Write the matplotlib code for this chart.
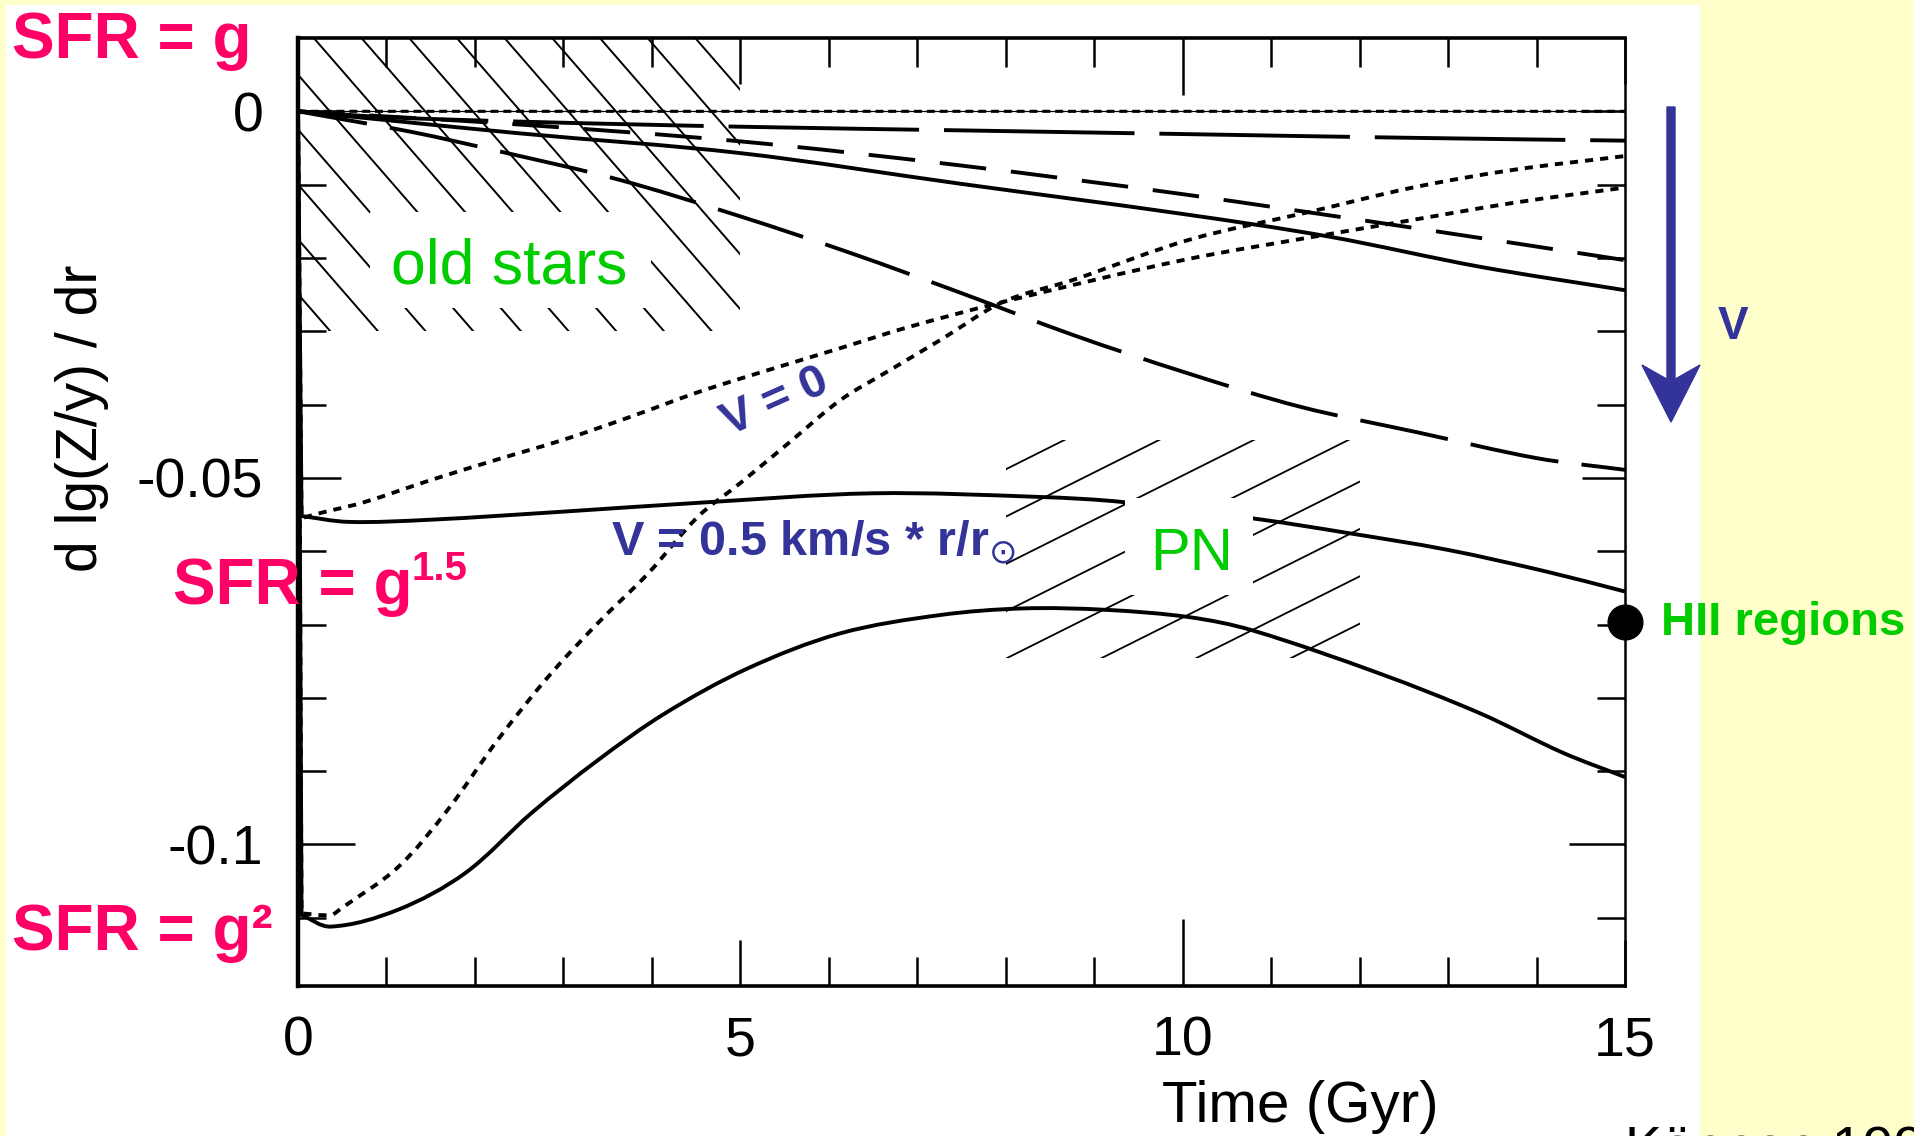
import matplotlib
matplotlib.use("Agg")
import matplotlib.pyplot as plt
import matplotlib.patches as mpatches
import matplotlib.transforms as mtransforms
from matplotlib.path import Path
import numpy as np

plt.rcParams['font.family'] = ['Liberation Sans', 'DejaVu Sans']
plt.rcParams['axes.unicode_minus'] = False
plt.rcParams['mathtext.fontset'] = 'dejavusans'

# --- data (time in Gyr, gradient in dex/kpc) ---
# SFR = g
g_v0_t = [0, 15]
g_v0 = [0, 0]
g_ld1_t = [0, 1, 2.5, 5, 7.5, 10, 12.5, 15]
g_ld1 = [0, -0.0008, -0.0014, -0.0021, -0.0026, -0.0031, -0.0036, -0.0040]
g_sol_t = [0, 1, 2.5, 5, 7.5, 10, 11.66, 13.36, 15]
g_sol = [0, -0.0012, -0.0030, -0.0057, -0.0099, -0.0140, -0.0171, -0.0212, -0.0244]
g_sd_t = [0, 2.5, 5, 7.5, 10, 12.5, 15]
g_sd = [0, -0.0018, -0.0041, -0.0074, -0.0113, -0.0157, -0.0203]
g_ld2_t = [0, 1.28, 2.29, 3.62, 4.94, 6.24, 7.5, 8.76, 10.05, 11.33, 12.66, 14.0, 15]
g_ld2 = [0, -0.0028, -0.0055, -0.0093, -0.0141, -0.0193, -0.0248, -0.0305,
         -0.0357, -0.0403, -0.0438, -0.0473, -0.0489]

# SFR = g^1.5
g15_v0_t = [0, 0.04, 0.25, 0.75, 1.5, 2.25, 3.0, 3.75, 4.5, 5.07, 6.13, 6.88,
            7.97, 10.0, 11.63, 12.46, 13.73, 15]
g15_v0 = [0, -0.0555, -0.0548, -0.0533, -0.0503, -0.0475, -0.0448, -0.0417,
          -0.0384, -0.0362, -0.0323, -0.0295, -0.0260, -0.0203, -0.0168,
          -0.0151, -0.0125, -0.0104]
g15_sol_t = [0, 0.04, 0.57, 1.5, 3.0, 4.52, 6.5, 8.39, 9.33, 10.9, 11.86,
             12.99, 14.12, 15]
g15_sol = [0, -0.0552, -0.0560, -0.0557, -0.0546, -0.0534, -0.0521, -0.0526,
           -0.0533, -0.0557, -0.0575, -0.0598, -0.0628, -0.0655]

# SFR = g^2
g2_v0_t = [0, 0.04, 0.37, 0.49, 1.13, 1.69, 2.26, 2.83, 3.39, 3.96, 4.52, 5.0,
           5.56, 6.13, 6.69, 7.26, 7.97, 8.76, 10.08, 11.44, 12.6, 13.73, 15]
g2_v0 = [0, -0.1094, -0.1096, -0.1087, -0.1031, -0.0953, -0.0857, -0.0771,
         -0.0698, -0.0630, -0.0553, -0.0507, -0.0451, -0.0394, -0.0353,
         -0.0312, -0.0260, -0.0230, -0.0175, -0.0137, -0.0104, -0.0080, -0.0061]
g2_sol_t = [0, 0.04, 0.37, 1.13, 1.89, 2.64, 3.39, 4.15, 5.08, 6.13, 7.26,
            8.2, 9.14, 10.08, 10.79, 12.23, 13.36, 14.3, 15]
g2_sol = [0, -0.1096, -0.1112, -0.1089, -0.1039, -0.0957, -0.0885, -0.0821,
          -0.0760, -0.0712, -0.0687, -0.0678, -0.0680, -0.0690, -0.0708,
          -0.0767, -0.0821, -0.0875, -0.0908]

# observed HII-region gradient
hii_t = [15]
hii_v = [-0.0697]

# age ranges of the tracers: (t0, t1, v0, v1)
old_stars_box = (0, 5, -0.030, 0.010)
pn_box = (8.0, 12.0, -0.0746, -0.0448)

x_ticks = [0, 5, 10, 15]
x_labels = ['0', '5', '10', '15']
y_ticks = [0, -0.05, -0.1]
y_labels = ['0', '-0.05', '-0.1']

W, H = 1915, 1136
fig = plt.figure(figsize=(W / 100, H / 100), dpi=100, facecolor='#ffffcc')
# pixel coordinates measured from top-left of the picture
P = mtransforms.Affine2D().scale(1, -1).translate(0, H).scale(0.01) + fig.dpi_scale_trans

fig.add_artist(mpatches.Rectangle((6, 5), 1694, 1131, transform=P,
                                  fc='white', ec='none', zorder=-1))

ax = fig.add_axes([298 / W, (H - 986) / H, 1327 / W, 948 / H])
ax.set_xlim(0, 15)
ax.set_ylim(-0.1193, 0.0100)

# pixels per unit, used to build smooth curves in screen-like proportions
SX, SY = 88.47, 7330.0
LW = 2.8


def curve(t, v, ls='-', lw=LW, drop=False):
    """Draw a smooth curve through the read-off points."""
    p = np.column_stack([np.asarray(t, float) * SX, np.asarray(v, float) * SY])
    verts = [p[0]]
    codes = [Path.MOVETO]
    s = 0
    if drop:
        verts.append(p[1])
        codes.append(Path.LINETO)
        s = 1
    q = p[s:]
    n = len(q)
    d = np.zeros_like(q)
    for i in range(n):
        a = q[max(i - 1, 0)]
        b = q[min(i + 1, n - 1)]
        vec = b - a
        d[i] = vec / np.hypot(*vec)
    for i in range(n - 1):
        L = np.hypot(*(q[i + 1] - q[i])) / 3
        verts += [q[i] + d[i] * L, q[i + 1] - d[i + 1] * L, q[i + 1]]
        codes += [Path.CURVE4] * 3
    verts = np.array(verts) / [SX, SY]
    patch = mpatches.PathPatch(Path(verts, codes), fill=False, ec='black',
                               lw=lw, ls=ls, capstyle='butt')
    ax.add_patch(patch)


dot = (0, (2.1, 1.8))
ax.axhline(0, color='black', lw=0.9, zorder=2)
curve(g_v0_t, g_v0, ls=(0, (2.6, 1.6)), lw=2.2)
curve(g_ld1_t, g_ld1, ls=(0, (49, 6.4)))
curve(g_sol_t, g_sol)
curve(g_sd_t, g_sd, ls=(0, (12, 6.4)))
curve(g_ld2_t, g_ld2, ls=(5, (23, 6)))

curve(g15_v0_t, g15_v0, ls=dot, drop=True)
curve(g15_sol_t, g15_sol, drop=True)
curve(g2_v0_t, g2_v0, ls=dot, drop=True)
curve(g2_sol_t, g2_sol, drop=True)

ax.plot(hii_t, hii_v, 'o', color='black', ms=25, clip_on=False, zorder=6)

# hatching of the tracer age ranges
t0, t1, v0, v1 = old_stars_box
clip = mpatches.Rectangle((t0, v0), t1 - t0, v1 - v0, transform=ax.transData)
slope = -0.01388
for tb in np.arange(0.904 - 6 * 0.539, t1 + 3.5, 0.539):
    ts = np.array([tb - 3.5, tb + 3.5])
    ln, = ax.plot(ts, v0 + slope * (ts - tb), color='black', lw=1.4)
    ln.set_clip_path(clip)

t0, t1, v0, v1 = pn_box
clip2 = mpatches.Rectangle((t0, v0), t1 - t0, v1 - v0, transform=ax.transData)
slope = 0.006035
for tb in np.arange(8.01 - 5 * 1.07, t1, 1.07):
    ts = np.array([tb - 1, tb + 6])
    ln, = ax.plot(ts, v0 + slope * (ts - tb), color='black', lw=1.3)
    ln.set_clip_path(clip2)

# axes styling
ax.set_xticks(x_ticks, labels=x_labels)
ax.set_yticks(y_ticks, labels=y_labels)
ax.set_xticks(np.arange(0, 16, 1), minor=True)
ax.set_yticks([-0.11, -0.09, -0.08, -0.07, -0.06, -0.04, -0.03, -0.02, -0.01], minor=True)
ax.tick_params(which='both', direction='in', top=True, right=True, width=1.8, color='black')
ax.tick_params(axis='x', which='major', length=33, labelsize=40, pad=21)
ax.tick_params(axis='y', which='major', length=31, labelsize=40, pad=25)
ax.tick_params(axis='x', which='minor', length=21)
ax.tick_params(axis='y', which='minor', length=20)
for tk in ax.xaxis.get_major_ticks()[2:3]:
    tk.tick1line.set_markersize(48)
    tk.tick2line.set_markersize(41)
for tk in ax.yaxis.get_major_ticks()[2:3]:
    tk.tick1line.set_markersize(41)
    tk.tick2line.set_markersize(40)
for lab in ax.get_yticklabels():
    lab.set_va('center_baseline')
for side, w in [('top', 2.6), ('bottom', 2.6), ('left', 3.2), ('right', 1.8)]:
    ax.spines[side].set_linewidth(w)

ax.set_xlabel('Time (Gyr)', fontsize=42)
ax.xaxis.set_label_coords(0.755, -0.099)
ax.set_ylabel('d lg(Z/y) / dr', fontsize=41)
ax.yaxis.set_label_coords(-0.1424, 0.599)

# white label boxes on top of the hatching
fig.add_artist(mpatches.Rectangle((370, 212), 281, 96, transform=P, fc='white', ec='none', zorder=5))
fig.add_artist(mpatches.Rectangle((1125, 498), 128, 97, transform=P, fc='white', ec='none', zorder=5))

pink = '#ff0066'
green = '#00cc00'
blue = '#333399'
kw = dict(transform=P, ha='left', va='baseline', zorder=6)
fig.text(12, 58, 'SFR = g', fontsize=46, fontweight='bold', color=pink, **kw)
fig.text(173, 604, 'SFR = g', fontsize=46, fontweight='bold', color=pink, **kw)
fig.text(411, 580, '1.5', fontsize=29, fontweight='bold', color=pink, **kw)
fig.text(12, 950, 'SFR = g\u00b2', fontsize=46, fontweight='bold', color=pink, **kw)
fig.text(391, 283, 'old stars', fontsize=45, color=green, **kw)
fig.text(1150, 570, 'PN', fontsize=43, color=green, **kw)
fig.text(1661, 635, 'HII regions', fontsize=34, fontweight='bold', color=green, **kw)
fig.text(611, 555, r'V = 0.5 km/s * r/r$_{\odot}$', fontsize=35, fontweight='bold', color=blue, **kw)
fig.text(775, 402, 'V = 0', fontsize=34, fontweight='bold', color=blue, rotation=24,
         transform=P, ha='center', va='center', rotation_mode='anchor', zorder=6)
fig.text(1733, 327, 'V', fontsize=33, fontweight='bold', color=blue,
         transform=P, ha='center', va='center', zorder=6)
fig.text(1625, 1165, 'K\u00f6ppen 1994', fontsize=40, color='black', **kw)

fig.add_artist(mpatches.FancyArrow(1671, 107, 0, 315, width=8, head_width=58, head_length=57,
                                   length_includes_head=True, overhang=0.25,
                                   transform=P, color=blue, zorder=6))

fig.savefig('out.png', dpi=100, facecolor=fig.get_facecolor())
